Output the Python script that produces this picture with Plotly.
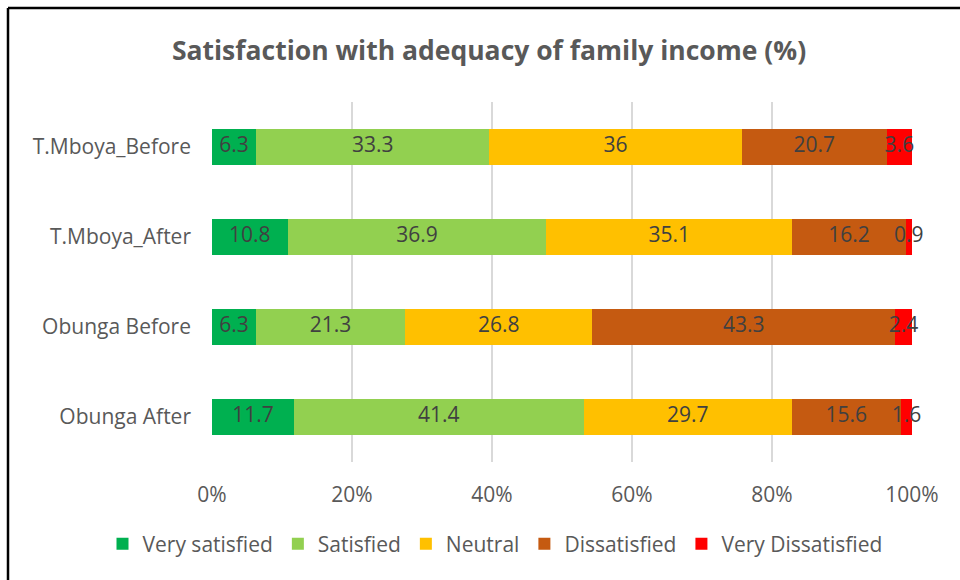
import plotly.graph_objects as go

# Survey groups, top to bottom
groups = ["T.Mboya_Before", "T.Mboya_After", "Obunga Before", "Obunga After"]

# Share of respondents (%) per satisfaction level
very_satisfied = [6.3, 10.8, 6.3, 11.7]
satisfied = [33.3, 36.9, 21.3, 41.4]
neutral = [36, 35.1, 26.8, 29.7]
dissatisfied = [20.7, 16.2, 43.3, 15.6]
very_dissatisfied = [3.6, 0.9, 2.4, 1.6]

levels = ["Very satisfied", "Satisfied", "Neutral", "Dissatisfied", "Very Dissatisfied"]
values = [very_satisfied, satisfied, neutral, dissatisfied, very_dissatisfied]
colors = ["#00B050", "#92D050", "#FFC000", "#C55A11", "#FF0000"]

W, H = 960, 580
FONT = "Open Sans, Lato, sans-serif"

# Row totals, used to place each label at the centre of its 100%-stacked segment
totals = [sum(col) for col in zip(*values)]

fig = go.Figure()
running = [0.0] * len(groups)
for name, vals, color in zip(levels, values, colors):
    fig.add_trace(go.Bar(
        name=name,
        y=groups,
        x=vals,
        orientation="h",
        marker=dict(color=color, line=dict(width=0)),
        width=0.41,
        hoverinfo="x+y+name",
    ))
    mids = [100 * (r + v / 2) / t for r, v, t in zip(running, vals, totals)]
    running = [r + v for r, v in zip(running, vals)]
    fig.add_trace(go.Scatter(
        x=mids,
        y=groups,
        mode="text",
        text=[f"{v:g}" for v in vals],
        textposition="middle center",
        textfont=dict(family=FONT, size=21, color="#404040"),
        showlegend=False,
        cliponaxis=False,
        hoverinfo="skip",
    ))

fig.update_layout(
    width=W, height=H,
    barmode="stack",
    barnorm="percent",
    margin=dict(l=0, r=0, t=0, b=0, autoexpand=False),
    paper_bgcolor="white",
    plot_bgcolor="white",
    title=dict(
        text="Satisfaction with adequacy of family income (%)",
        x=489 / W, xanchor="center",
        y=1 - 51 / H, yanchor="middle",
        font=dict(family=FONT, size=26.5, color="#595959", weight="bold"),
    ),
    xaxis=dict(
        domain=[212 / W, 912 / W],
        range=[0, 100],
        tickvals=[0, 20, 40, 60, 80, 100],
        ticktext=["0%", "20%", "40%", "60%", "80%", "100%"],
        showgrid=True, gridcolor="#D9D9D9", gridwidth=2,
        zeroline=False, showline=False,
        tickfont=dict(family=FONT, size=21, color="#595959"),
        ticks="", ticklabelstandoff=18,
        automargin=False,
    ),
    yaxis=dict(
        domain=[1 - 462 / H, 1 - 102 / H],
        autorange="reversed",
        showgrid=False, zeroline=False, showline=False,
        tickfont=dict(family=FONT, size=21, color="#595959"),
        ticks="", ticklabelstandoff=20,
        automargin=False,
    ),
    legend=dict(
        orientation="h",
        x=495 / W, xanchor="center",
        y=1 - 544 / H, yanchor="middle",
        font=dict(family=FONT, size=21, color="#595959"),
        itemwidth=30,
        traceorder="normal",
    ),
    shapes=[
        dict(type="line", xref="paper", yref="paper",
             x0=8 / W, x1=1, y0=1 - 8 / H, y1=1 - 8 / H,
             line=dict(color="black", width=2.5)),
        dict(type="line", xref="paper", yref="paper",
             x0=8 / W, x1=8 / W, y0=0, y1=1 - 8 / H,
             line=dict(color="black", width=2.5)),
    ],
)

fig.write_html("out.html")
